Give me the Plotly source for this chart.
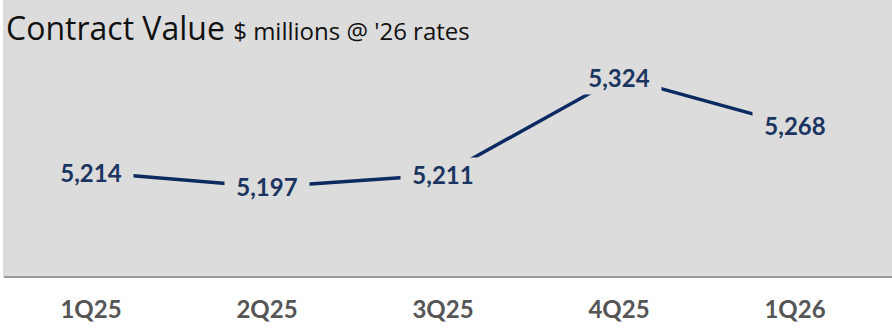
import plotly.graph_objects as go

quarters = ["1Q25", "2Q25", "3Q25", "4Q25", "1Q26"]
contract_value = [5214, 5197, 5211, 5324, 5268]
value_labels = ["5,214", "5,197", "5,211", "5,324", "5,268"]

BG = "#dcdcdc"
NAVY = "#0b2a62"
LABEL = "#1b3560"
FONT = "Lato"

W, H = 892, 329
ml, mr, mt, mb = 3, 9, 0, 52
pw = W - ml - mr

fig = go.Figure()
fig.add_trace(go.Scatter(
    x=quarters, y=contract_value, mode="lines",
    line=dict(color=NAVY, width=3.5), hoverinfo="skip", showlegend=False,
))

annotations = []
for q, v, t in zip(quarters, contract_value, value_labels):
    annotations.append(dict(
        x=q, y=v, xref="x", yref="y", text=t, showarrow=False,
        font=dict(family=FONT, size=24, color=LABEL, weight="bold"),
        bgcolor=BG, width=84, height=33, borderpad=0,
        xanchor="center", yanchor="middle",
    ))

annotations.append(dict(
    xref="paper", yref="paper", x=(4 - ml) / pw, y=1 - 4 / (H - mt - mb),
    xanchor="left", yanchor="top", showarrow=False, align="left",
    text="<span style='font-size:32px'>Contract Value</span> <span style='font-size:24px'>$ millions @ '26 rates</span>",
    font=dict(family="Open Sans", size=32, color="#111111"),
))

shapes = [
    dict(type="rect", xref="paper", yref="paper",
         x0=(4 - ml) / pw, x1=(W - ml) / pw, y0=0, y1=1,
         fillcolor=BG, line=dict(width=0), layer="below"),
    dict(type="line", xref="paper", yref="paper",
         x0=(4 - ml) / pw, x1=(W - ml) / pw, y0=0, y1=0,
         line=dict(color="#9a9a9a", width=2), layer="above"),
]

fig.update_layout(
    width=W, height=H,
    margin=dict(l=ml, r=mr, t=mt, b=mb),
    paper_bgcolor="white", plot_bgcolor=BG,
    annotations=annotations, shapes=shapes,
    xaxis=dict(
        type="category", range=[-0.5, 4.5], showgrid=False, zeroline=False,
        showline=False, ticks="", ticklabelstandoff=16,
        tickfont=dict(family=FONT, size=24, color="#555555", weight="bold"),
    ),
    yaxis=dict(range=[5093, 5413], visible=False, showgrid=False, zeroline=False),
)

fig.write_html("out.html")
